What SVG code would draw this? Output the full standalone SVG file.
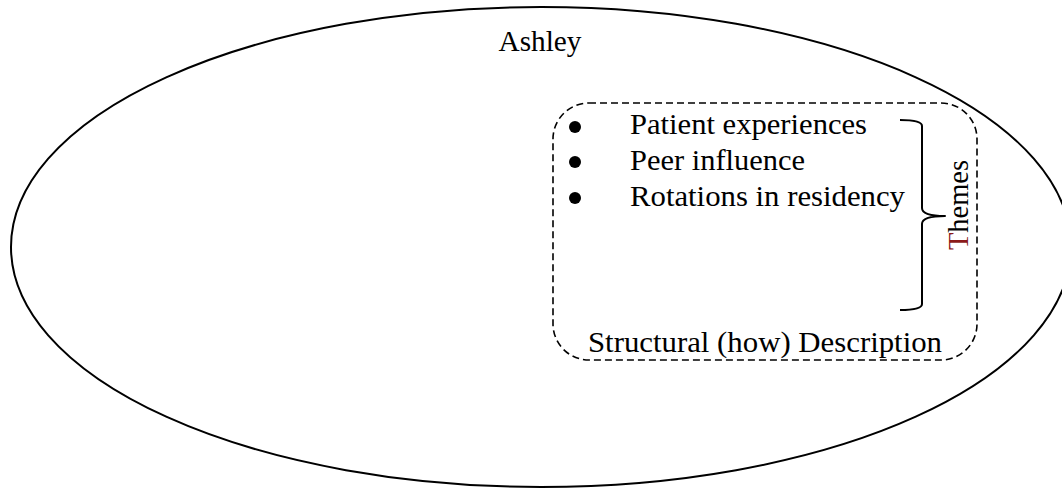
<svg xmlns="http://www.w3.org/2000/svg" width="1062" height="489" viewBox="0 0 1062 489">
  <style>
    .lbl { font-family: 'Liberation Serif', Tinos, 'Times New Roman', Times, serif; font-size: 30px; fill: #000; }
    .title { font-size: 29px; }
    .outline { fill: none; stroke: #000; stroke-width: 2; }
    .dashed { fill: none; stroke: #000; stroke-width: 1.6; stroke-dasharray: 7 4; }
    .brace { fill: none; stroke: #000; stroke-width: 2; stroke-linejoin: round; }
    .dot { fill: #000; }
  </style>
  <rect width="1062" height="489" fill="#fff"/>

  <!-- outer participant ellipse -->
  <g id="ashley">
    <ellipse class="outline" cx="541" cy="247" rx="530" ry="240"/>
    <text class="lbl title" x="540" y="51" text-anchor="middle" textLength="83" lengthAdjust="spacingAndGlyphs">Ashley</text>
  </g>

  <!-- structural description box with theme list -->
  <g id="structural-description">
    <rect class="dashed" x="553" y="103" width="424" height="257" rx="36" ry="36"/>
    <circle class="dot" cx="575" cy="127" r="6"/>
    <circle class="dot" cx="575" cy="162" r="6"/>
    <circle class="dot" cx="575" cy="198" r="6"/>
    <text class="lbl" x="630" y="134" textLength="237" lengthAdjust="spacingAndGlyphs">Patient experiences</text>
    <text class="lbl" x="630" y="170" textLength="175" lengthAdjust="spacingAndGlyphs">Peer influence</text>
    <text class="lbl" x="630" y="206" textLength="275" lengthAdjust="spacingAndGlyphs">Rotations in residency</text>
    <text class="lbl" x="588" y="352" textLength="354" lengthAdjust="spacingAndGlyphs">Structural (how) Description</text>
  </g>

  <!-- brace grouping the themes -->
  <g id="themes">
    <path class="brace" d="M900 120 Q922 120 922 126 L922 208 Q922 216 945 216 Q922 216 922 224 L922 304 Q922 310 900 310"/>
    <text class="lbl title" transform="translate(968 205) rotate(-90)" text-anchor="middle" textLength="90" lengthAdjust="spacingAndGlyphs"><tspan fill="#8b1a1a">T</tspan>hemes</text>
  </g>
</svg>
